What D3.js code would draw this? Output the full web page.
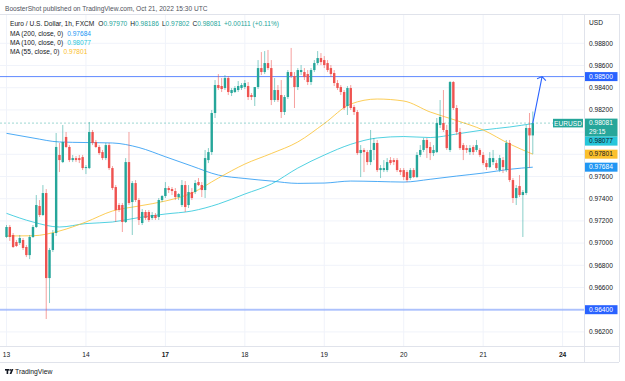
<!DOCTYPE html>
<html>
<head>
<meta charset="utf-8">
<style>
    body { margin: 0; background: #ffffff; }
    svg { display: block; font-family: "Liberation Sans", Arial, sans-serif; }
</style>
</head>
<body>
<svg width="625" height="381"></svg>

<script src="https://d3js.org/d3.v7.min.js"></script>
<script>
    // EURUSD 1h bars, Oct 13 00:00 -> Oct 21 15:00 UTC   [open, high, low, close]
    let candles = [
        [0.97055, 0.97163, 0.97046, 0.97145], [0.97145, 0.97163, 0.97019, 0.97055], [0.97073, 0.97091, 0.96956, 0.96965],
        [0.97010, 0.97028, 0.96965, 0.96974], [0.97001, 0.97073, 0.96983, 0.97046], [0.97028, 0.97046, 0.96938, 0.96956],
        [0.96965, 0.96983, 0.96874, 0.96892], [0.96892, 0.97073, 0.96856, 0.97055], [0.97055, 0.97163, 0.97046, 0.97145],
        [0.97145, 0.97433, 0.97136, 0.97343], [0.97334, 0.97388, 0.97235, 0.97253], [0.97253, 0.97523, 0.97244, 0.97451],
        [0.97451, 0.97487, 0.96316, 0.96685], [0.96685, 0.96956, 0.96460, 0.96938], [0.96938, 0.97118, 0.96920, 0.97091],
        [0.97091, 0.97992, 0.97064, 0.97866], [0.97794, 0.97902, 0.97640, 0.97748], [0.97730, 0.98064, 0.97721, 0.97911],
        [0.97956, 0.98001, 0.97856, 0.97866], [0.97866, 0.97883, 0.97730, 0.97748], [0.97748, 0.97794, 0.97730, 0.97766],
        [0.97766, 0.97784, 0.97730, 0.97748], [0.97766, 0.97794, 0.97721, 0.97748], [0.97775, 0.97794, 0.97658, 0.97676],
        [0.97676, 0.97703, 0.97622, 0.97685], [0.97676, 0.98091, 0.97667, 0.98001], [0.98001, 0.98019, 0.97883, 0.97902],
        [0.97911, 0.97929, 0.97856, 0.97866], [0.97866, 0.97883, 0.97794, 0.97811], [0.97820, 0.97839, 0.97748, 0.97766],
        [0.97766, 0.97902, 0.97748, 0.97883], [0.97883, 0.97902, 0.97658, 0.97676], [0.97676, 0.97694, 0.97478, 0.97496],
        [0.97505, 0.97523, 0.97190, 0.97298], [0.97343, 0.97361, 0.97280, 0.97298], [0.97343, 0.97361, 0.97100, 0.97190],
        [0.97190, 0.97766, 0.97181, 0.97730], [0.97730, 0.98001, 0.97343, 0.97361], [0.97370, 0.97559, 0.97073, 0.97541],
        [0.97541, 0.97568, 0.97370, 0.97388], [0.97388, 0.97406, 0.97163, 0.97208], [0.97181, 0.97307, 0.97163, 0.97280],
        [0.97280, 0.97298, 0.97208, 0.97226], [0.97280, 0.97298, 0.97190, 0.97208], [0.97226, 0.97280, 0.97208, 0.97253],
        [0.97253, 0.97271, 0.97208, 0.97226], [0.97235, 0.97406, 0.97208, 0.97388], [0.97388, 0.97433, 0.97370, 0.97424],
        [0.97424, 0.97550, 0.97406, 0.97496], [0.97496, 0.97514, 0.97451, 0.97478], [0.97487, 0.97505, 0.97433, 0.97469],
        [0.97469, 0.97496, 0.97388, 0.97415], [0.97415, 0.97451, 0.97388, 0.97442], [0.97343, 0.97568, 0.97325, 0.97523],
        [0.97523, 0.97559, 0.97280, 0.97325], [0.97343, 0.97523, 0.97316, 0.97460], [0.97460, 0.97496, 0.97388, 0.97406],
        [0.97460, 0.97568, 0.97442, 0.97541], [0.97550, 0.97586, 0.97514, 0.97523], [0.97523, 0.97550, 0.97415, 0.97478],
        [0.97478, 0.97839, 0.97406, 0.97766], [0.97748, 0.97856, 0.97721, 0.97820], [0.97820, 0.98199, 0.97794, 0.98172],
        [0.98172, 0.98469, 0.98127, 0.98424], [0.98424, 0.98523, 0.98379, 0.98397], [0.98415, 0.98487, 0.98361, 0.98388],
        [0.98397, 0.98514, 0.98379, 0.98487], [0.98487, 0.98505, 0.98334, 0.98361], [0.98352, 0.98397, 0.98325, 0.98379],
        [0.98361, 0.98415, 0.98352, 0.98397], [0.98379, 0.98460, 0.98361, 0.98415], [0.98397, 0.98442, 0.98379, 0.98424],
        [0.98406, 0.98469, 0.98388, 0.98442], [0.98415, 0.98451, 0.98289, 0.98316], [0.98334, 0.98352, 0.98289, 0.98316],
        [0.98316, 0.98361, 0.98235, 0.98406], [0.98406, 0.98649, 0.98388, 0.98577], [0.98577, 0.98721, 0.98514, 0.98541],
        [0.98541, 0.98730, 0.98523, 0.98622], [0.98622, 0.98740, 0.98559, 0.98577], [0.98577, 0.98649, 0.98244, 0.98289],
        [0.98289, 0.98487, 0.98271, 0.98379], [0.98379, 0.98424, 0.98271, 0.98289], [0.98334, 0.98469, 0.98127, 0.98181],
        [0.98181, 0.98334, 0.98154, 0.98316], [0.98316, 0.98559, 0.98298, 0.98541], [0.98541, 0.98758, 0.98487, 0.98505],
        [0.98505, 0.98541, 0.98217, 0.98406], [0.98406, 0.98577, 0.98379, 0.98559], [0.98541, 0.98604, 0.98514, 0.98559],
        [0.98541, 0.98577, 0.98469, 0.98496], [0.98523, 0.98559, 0.98424, 0.98451], [0.98451, 0.98577, 0.98424, 0.98559],
        [0.98559, 0.98649, 0.98541, 0.98622], [0.98622, 0.98730, 0.98604, 0.98667], [0.98667, 0.98712, 0.98604, 0.98631],
        [0.98649, 0.98685, 0.98577, 0.98604], [0.98622, 0.98649, 0.98541, 0.98559], [0.98577, 0.98604, 0.98496, 0.98523],
        [0.98532, 0.98559, 0.98415, 0.98442], [0.98442, 0.98469, 0.98379, 0.98397], [0.98406, 0.98424, 0.98334, 0.98361],
        [0.98361, 0.98379, 0.98199, 0.98217], [0.98235, 0.98415, 0.98154, 0.98397], [0.98397, 0.98424, 0.98199, 0.98217],
        [0.98226, 0.98244, 0.98154, 0.98181], [0.98181, 0.98199, 0.97794, 0.97811], [0.97811, 0.97883, 0.97595, 0.97839],
        [0.97839, 0.97856, 0.97640, 0.97820], [0.97820, 0.97839, 0.97703, 0.97730], [0.97730, 0.98019, 0.97703, 0.97839],
        [0.97839, 0.97947, 0.97748, 0.97902], [0.97902, 0.97929, 0.97640, 0.97658], [0.97658, 0.97703, 0.97586, 0.97676],
        [0.97658, 0.97748, 0.97640, 0.97676], [0.97658, 0.97766, 0.97640, 0.97730], [0.97748, 0.97775, 0.97703, 0.97721],
        [0.97748, 0.97766, 0.97703, 0.97730], [0.97748, 0.97766, 0.97640, 0.97658], [0.97658, 0.97676, 0.97613, 0.97640],
        [0.97658, 0.97676, 0.97568, 0.97595], [0.97640, 0.97658, 0.97550, 0.97568], [0.97586, 0.97676, 0.97568, 0.97658],
        [0.97658, 0.97676, 0.97586, 0.97595], [0.97595, 0.97820, 0.97586, 0.97794], [0.97794, 0.97883, 0.97775, 0.97839],
        [0.97839, 0.97947, 0.97820, 0.97929], [0.97929, 0.97947, 0.97766, 0.97856], [0.97866, 0.97911, 0.97748, 0.97811],
        [0.97811, 0.97883, 0.97784, 0.97839], [0.97820, 0.98127, 0.97811, 0.98082], [0.98064, 0.98289, 0.98037, 0.98136],
        [0.98082, 0.98379, 0.98001, 0.98019], [0.98019, 0.98064, 0.97839, 0.97856], [0.97839, 0.98460, 0.97820, 0.98451],
        [0.98451, 0.98460, 0.98199, 0.98217], [0.98217, 0.98244, 0.97974, 0.98001], [0.98001, 0.98037, 0.97839, 0.97856],
        [0.97883, 0.97902, 0.97748, 0.97839], [0.97856, 0.97883, 0.97811, 0.97839], [0.97820, 0.97883, 0.97794, 0.97856],
        [0.97866, 0.97883, 0.97794, 0.97820], [0.97839, 0.97929, 0.97820, 0.97883], [0.97839, 0.97856, 0.97775, 0.97794],
        [0.97794, 0.97820, 0.97703, 0.97721], [0.97721, 0.97748, 0.97658, 0.97685], [0.97685, 0.97820, 0.97676, 0.97766],
        [0.97730, 0.97839, 0.97703, 0.97766], [0.97721, 0.97748, 0.97658, 0.97676], [0.97658, 0.97794, 0.97640, 0.97766],
        [0.97748, 0.97775, 0.97631, 0.97685], [0.97658, 0.97929, 0.97640, 0.97902], [0.97902, 0.97929, 0.97550, 0.97568],
        [0.97568, 0.97586, 0.97361, 0.97406], [0.97406, 0.97523, 0.97343, 0.97496], [0.97514, 0.97613, 0.97415, 0.97433],
        [0.97433, 0.97478, 0.97055, 0.97460], [0.97451, 0.98064, 0.97433, 0.98037], [0.98037, 0.98172, 0.97676, 0.97970],
        [0.97970, 0.98186, 0.97802, 0.98081]
    ];

    // moving averages, every 8 bars
    let maIdx = [0, 8, 16, 24, 32, 40, 48, 56, 64, 72, 80, 88, 96, 104, 112, 120, 128, 136, 144, 152, 159];
    let ma200 = [0.97989, 0.97947, 0.97911, 0.97906, 0.97902, 0.97861, 0.97778, 0.97694, 0.97613, 0.97582, 0.97559,
                 0.97538, 0.97541, 0.97559, 0.97555, 0.97550, 0.97575, 0.97604, 0.97631, 0.97665, 0.97684];
    let ma100 = [0.97268, 0.97190, 0.97145, 0.97176, 0.97190, 0.97230, 0.97262, 0.97289, 0.97352, 0.97442, 0.97532,
                 0.97676, 0.97793, 0.97890, 0.97947, 0.97960, 0.97951, 0.97983, 0.98019, 0.98046, 0.98077];
    let ma55  = [0.97064, 0.97066, 0.97109, 0.97190, 0.97289, 0.97334, 0.97379, 0.97451, 0.97586, 0.97712, 0.97807,
                 0.97911, 0.98077, 0.98253, 0.98298, 0.98280, 0.98181, 0.98104, 0.98019, 0.97893, 0.97801];

    let dayIdx = [0, 24, 48, 72, 96, 120, 144, 168];
    let dayLabels = ["13", "14", "17", "18", "19", "20", "21", "24"];
    let weekStarts = ["17", "24"];

    let priceTicks = [0.962, 0.964, 0.966, 0.968, 0.970, 0.972, 0.974, 0.976, 0.978, 0.980, 0.982, 0.984, 0.986, 0.988];
    let levels = [0.985, 0.964];
    let arrowFrom = [159, 0.98081];
    let arrowTo = [161.8, 0.98500];

    let up = "#26a69a", down = "#ef5350";
    let c200 = "#2196f3", c100 = "#26c6da", c55 = "#fbc02d";
    let ink = "#131722";

    let svg = d3.select("svg");
    let plotR = 584, plotT = 14, plotB = 346, axisR = 619, axisB = 362;

    let x = d3.scaleLinear().domain([0, 159]).range([6.5, 532.8]);
    let y = d3.scaleLinear().domain([0.964, 0.988]).range([309.7, 43.3]);
    let fmt = d3.format(".5f");

    // header
    svg.append("text").attr("x", 5).attr("y", 10.5).attr("font-size", 6.6).attr("fill", "#50535e")
        .text("BoosterShot published on TradingView.com, Oct 21, 2022 15:30 UTC");

    // grid
    svg.append("g").selectAll("line").data(priceTicks.filter(v => y(v) > plotT && y(v) < plotB)).join("line")
        .attr("x1", 0).attr("x2", plotR).attr("y1", d => y(d)).attr("y2", d => y(d))
        .attr("stroke", "#f0f3fa").attr("stroke-width", 1);
    svg.append("g").selectAll("line").data(dayIdx).join("line")
        .attr("x1", d => x(d)).attr("x2", d => x(d)).attr("y1", plotT).attr("y2", plotB)
        .attr("stroke", "#f0f3fa").attr("stroke-width", 1);

    // frame
    let frame = svg.append("g").attr("stroke", "#e0e3eb").attr("stroke-width", 1);
    frame.append("line").attr("x1", 0).attr("x2", axisR).attr("y1", plotT + 0.5).attr("y2", plotT + 0.5);
    frame.append("line").attr("x1", 0).attr("x2", axisR).attr("y1", plotB + 0.5).attr("y2", plotB + 0.5);
    frame.append("line").attr("x1", 0).attr("x2", axisR).attr("y1", axisB + 0.5).attr("y2", axisB + 0.5);
    frame.append("line").attr("x1", plotR + 0.5).attr("x2", plotR + 0.5).attr("y1", plotT).attr("y2", axisB);
    frame.append("line").attr("x1", axisR + 0.5).attr("x2", axisR + 0.5).attr("y1", plotT).attr("y2", axisB);

    svg.append("clipPath").attr("id", "plot").append("rect")
        .attr("x", 0).attr("y", plotT + 1).attr("width", plotR).attr("height", plotB - plotT - 1);
    let plot = svg.append("g").attr("clip-path", "url(#plot)");

    // horizontal levels
    plot.append("line").attr("x1", 0).attr("x2", plotR).attr("y1", y(levels[0])).attr("y2", y(levels[0]))
        .attr("stroke", "#2962ff").attr("stroke-opacity", 0.75).attr("stroke-width", 1);
    plot.append("line").attr("x1", 0).attr("x2", plotR).attr("y1", y(levels[1])).attr("y2", y(levels[1]))
        .attr("stroke", "#2962ff").attr("stroke-opacity", 0.35).attr("stroke-width", 2);

    // moving averages
    let maLine = d3.line().x((d, k) => x(maIdx[k])).y(d => y(d)).curve(d3.curveMonotoneX);
    [[ma200, c200], [ma100, c100], [ma55, c55]].forEach(([vals, col]) => {
        plot.append("path").attr("d", maLine(vals)).attr("fill", "none")
            .attr("stroke", col).attr("stroke-opacity", 0.8).attr("stroke-width", 1);
    });

    // last price line
    let last = candles[candles.length - 1];
    let prev = candles[candles.length - 2];
    plot.append("line").attr("x1", 0).attr("x2", plotR).attr("y1", y(last[3])).attr("y2", y(last[3]))
        .attr("stroke", up).attr("stroke-opacity", 0.45).attr("stroke-dasharray", "2,2");

    // candles
    let color = d => d[3] >= d[0] ? up : down;
    plot.append("g").selectAll("line").data(candles).join("line")
        .attr("x1", (d, i) => x(i)).attr("x2", (d, i) => x(i))
        .attr("y1", d => y(d[1])).attr("y2", d => y(d[2]))
        .attr("stroke", color).attr("stroke-opacity", 0.55).attr("stroke-width", 1);
    plot.append("g").selectAll("rect").data(candles).join("rect")
        .attr("x", (d, i) => x(i) - 1.2).attr("width", 2.4)
        .attr("y", d => Math.min(y(d[0]), y(d[3])))
        .attr("height", d => Math.max(1, Math.abs(y(d[0]) - y(d[3]))))
        .attr("fill", color);

    // projection arrow
    let ax1 = x(arrowFrom[0]), ay1 = y(arrowFrom[1]), ax2 = x(arrowTo[0]), ay2 = y(arrowTo[1]);
    let ang = Math.atan2(ay1 - ay2, ax1 - ax2);
    let arm = a => [ax2 + 5.5 * Math.cos(ang + a), ay2 + 5.5 * Math.sin(ang + a)];
    let p1 = arm(0.95), p2 = arm(-0.95);
    plot.append("path")
        .attr("d", `M${ax1},${ay1}L${ax2},${ay2}M${p1[0]},${p1[1]}L${ax2},${ay2}L${p2[0]},${p2[1]}`)
        .attr("fill", "none").attr("stroke", "#2962ff").attr("stroke-width", 1.1);

    // price tags on the axis
    let tags = [
        { v: levels[0], bg: "#2962ff", fg: "#fff", lines: [fmt(levels[0])] },
        { v: last[3], bg: up, fg: "#fff", lines: [fmt(last[3]), "29:15"] },
        { v: ma100[ma100.length - 1], bg: c100, fg: ink, lines: [fmt(ma100[ma100.length - 1])] },
        { v: ma55[ma55.length - 1], bg: c55, fg: ink, lines: [fmt(ma55[ma55.length - 1])] },
        { v: ma200[ma200.length - 1], bg: c200, fg: "#fff", lines: [fmt(ma200[ma200.length - 1])] },
        { v: levels[1], bg: "#2962ff", fg: "#fff", lines: [fmt(levels[1])] }
    ];
    let lineH = 9;
    let bottom = -Infinity;
    tags.forEach(t => {
        t.top = Math.max(y(t.v) - lineH / 2, bottom);
        t.h = lineH * t.lines.length;
        bottom = t.top + t.h;
    });

    // axis tick labels, hidden where a tag sits
    let axis = svg.append("g").attr("font-size", 6.6).attr("fill", ink);
    axis.append("text").attr("x", 589).attr("y", 24.5).text("USD");
    axis.selectAll("text.tick").data(priceTicks.filter(v => !tags.some(t => y(v) > t.top - 3 && y(v) < t.top + t.h + 3)))
        .join("text").attr("class", "tick")
        .attr("x", 589).attr("y", d => y(d) + 2.3).text(d => fmt(d));

    let tagG = svg.append("g").attr("font-size", 6.6);
    tags.forEach(t => {
        tagG.append("rect").attr("x", plotR + 1).attr("y", t.top).attr("width", 32.5).attr("height", t.h).attr("fill", t.bg);
        t.lines.forEach((s, k) => {
            tagG.append("text").attr("x", 589).attr("y", t.top + k * lineH + 6.8).attr("fill", t.fg).text(s);
        });
    });
    // symbol tag
    tagG.append("rect").attr("x", 553).attr("y", y(last[3]) - 4.3).attr("width", 30).attr("height", 8.6).attr("fill", up);
    tagG.append("text").attr("x", 568).attr("y", y(last[3]) + 2.4).attr("text-anchor", "middle")
        .attr("fill", "#fff").text("EURUSD");

    // time axis
    svg.append("g").attr("font-size", 6.6).attr("fill", ink)
        .selectAll("text").data(dayIdx).join("text")
        .attr("x", d => x(d)).attr("y", 356.5).attr("text-anchor", "middle")
        .attr("font-weight", (d, k) => weekStarts.includes(dayLabels[k]) ? "bold" : "normal")
        .text((d, k) => dayLabels[k]);

    // legend
    let leg = svg.append("g").attr("font-size", 6.6).attr("fill", ink);
    let l1 = leg.append("text").attr("x", 10).attr("y", 26.3);
    l1.append("tspan").text("Euro / U.S. Dollar, 1h, FXCM");
    [["O", last[0]], ["H", last[1]], ["L", last[2]], ["C", last[3]]].forEach(([k, v], n) => {
        l1.append("tspan").attr("dx", n === 0 ? 4 : 3).text(k);
        l1.append("tspan").attr("fill", up).text(fmt(v));
    });
    let chg = last[3] - prev[3];
    l1.append("tspan").attr("dx", 3).attr("fill", up)
        .text("+" + fmt(chg) + " (+" + d3.format(".2f")(chg / prev[3] * 100) + "%)");

    [["MA (200, close, 0)", ma200, c200], ["MA (100, close, 0)", ma100, c100], ["MA (55, close, 0)", ma55, c55]]
        .forEach(([name, vals, col], k) => {
            let t = leg.append("text").attr("x", 10).attr("y", 35.6 + k * 9.2);
            t.append("tspan").text(name);
            t.append("tspan").attr("dx", 4).attr("fill", col).text(fmt(vals[vals.length - 1]));
        });

    // footer logo
    let logo = svg.append("g").attr("fill", ink);
    logo.append("rect").attr("x", 5).attr("y", 369).attr("width", 4).attr("height", 1.6);
    logo.append("rect").attr("x", 6.6).attr("y", 369).attr("width", 1.6).attr("height", 5);
    logo.append("circle").attr("cx", 10.2).attr("cy", 369.9).attr("r", 0.9);
    logo.append("path").attr("d", "M11.6,369 L13.4,369 L11.4,374 L9.6,374 Z");
    svg.append("text").attr("x", 15).attr("y", 374.3).attr("font-size", 6.8).attr("fill", ink).text("TradingView");
</script>
</body>
</html>
